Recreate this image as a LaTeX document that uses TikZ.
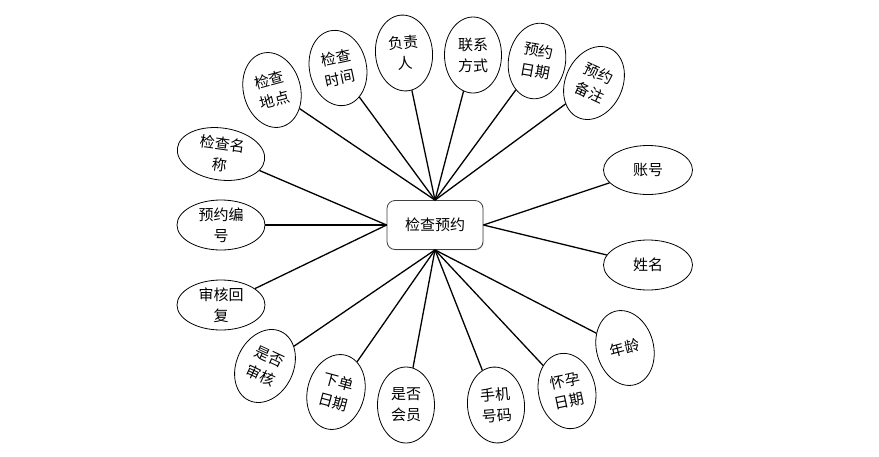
\documentclass[tikz,border=0pt]{standalone}
\usepackage{fontspec}
\setmainfont{Noto Sans CJK SC}
\usetikzlibrary{shapes.geometric,shadows}
\begin{document}
\begin{tikzpicture}[x=1pt,y=-1pt,
  ell/.style={draw, ellipse, line width=0.8pt, inner sep=0pt},
  tall/.style={ell, minimum width=57pt, minimum height=76pt},
  wide/.style={ell, minimum width=88pt, minimum height=50pt},
  lbl/.style={font=\fontsize{15}{21}\selectfont, align=center, inner sep=0pt},
  conn/.style={line width=1.3pt},
  hub/.style={draw=black!75, rounded corners=8pt, minimum width=96pt, minimum height=49pt,
    line width=0.8pt, fill=white, font=\fontsize{15}{18}\selectfont,
    drop shadow={opacity=0.15, shadow xshift=1pt, shadow yshift=-1pt}}]
\useasboundingbox (0,0) rectangle (879,456);

\node[hub] (c) at (435,225) {检查预约};

% top group
\node[tall, rotate=15] (dd) at (272,90) {};
\node[lbl, rotate=15] (dd-t) at (dd) {检查\\地点};
\node[tall, rotate=12] (sj) at (338,68) {};
\node[lbl, rotate=12] (sj-t) at (sj) {检查\\时间};
\node[tall, rotate=5] (fz) at (404,53) {};
\node[lbl, rotate=5] (fz-t) at (fz) {负责\\人};
\node[tall] (lx) at (473,55) {};
\node[lbl] (lx-t) at (lx) {联系\\方式};
\node[tall, rotate=-10] (yr) at (537,61) {};
\node[lbl, rotate=-10] (yr-t) at (yr) {预约\\日期};
\node[tall, rotate=-25] (bz) at (594,83) {};
\node[lbl, rotate=-25] (bz-t) at (bz) {预约\\备注};

% left group
\node[wide, rotate=-8, minimum height=52pt] (mc) at (221,154) {};
\node[lbl, rotate=-8] (mc-t) at (mc) {检查名\\称};
\node[wide] (bh) at (221,225) {};
\node[lbl] (bh-t) at (bh) {预约编\\号};
\node[wide] (hf) at (221,305) {};
\node[lbl] (hf-t) at (hf) {审核回\\复};

% right group
\node[wide, minimum width=89pt, minimum height=49pt] (zh) at (648,170) {};
\node[lbl] (zh-t) at (zh) {账号};
\node[wide, minimum width=89pt] (xm) at (648,265) {};
\node[lbl] (xm-t) at (xm) {姓名};

% bottom group
\node[tall, rotate=-25] (sh) at (265,366) {};
\node[lbl, rotate=-25] (sh-t) at (sh) {是否\\审核};
\node[tall, rotate=-15] (xd) at (336,392) {};
\node[lbl, rotate=-15] (xd-t) at (xd) {下单\\日期};
\node[tall] (hy) at (406,405) {};
\node[lbl] (hy-t) at (hy) {是否\\会员};
\node[tall, rotate=5] (sj2) at (496,405) {};
\node[lbl, rotate=5] (sj2-t) at (sj2) {手机\\号码};
\node[tall, rotate=12] (hr) at (567,391) {};
\node[lbl, rotate=12] (hr-t) at (hr) {怀孕\\日期};
\node[tall, rotate=15] (nl) at (625,348) {};
\node[lbl, rotate=15] (nl-t) at (nl) {年龄};

% connectors
\foreach \n in {dd,sj,fz,lx,yr,bz} \draw[conn] (\n) -- (c.north);
\foreach \n in {mc,bh,hf} \draw[conn] (\n) -- (c.west);
\foreach \n in {zh,xm} \draw[conn] (\n) -- (c.east);
\foreach \n in {sh,xd,hy,sj2,hr,nl} \draw[conn] (\n) -- (c.south);
\end{tikzpicture}
\end{document}
